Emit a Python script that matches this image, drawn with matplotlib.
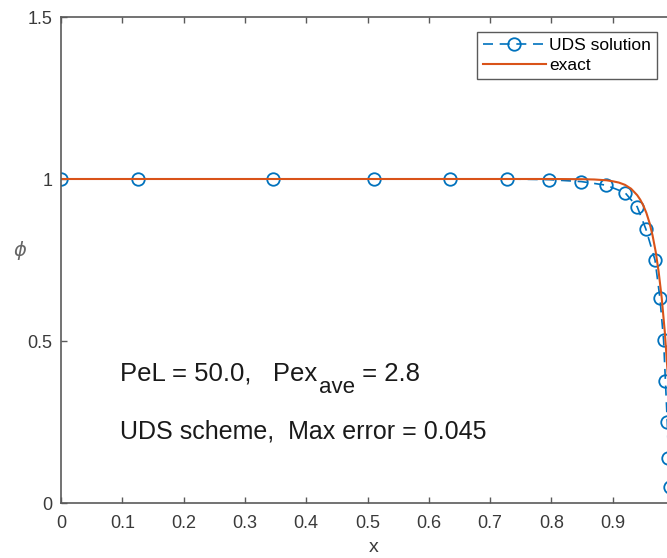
import numpy as np
import matplotlib.pyplot as plt

plt.rcParams['font.family'] = ['Liberation Sans', 'DejaVu Sans']

# UDS solution
x_uds = [0.0, 0.125, 0.346, 0.511, 0.635, 0.728, 0.796, 0.849, 0.889, 0.920,
         0.940, 0.954, 0.969, 0.977, 0.983, 0.986, 0.989, 0.991, 0.993, 1.0]
phi_uds = [1.0, 1.0, 1.0, 1.0, 1.0, 1.0, 0.998, 0.992, 0.981, 0.958,
           0.914, 0.846, 0.750, 0.633, 0.503, 0.377, 0.251, 0.139, 0.05, 0.0]

# exact solution
x_ex = [0.0, 0.5, 0.8, 0.85, 0.87, 0.89, 0.90, 0.91, 0.92, 0.93, 0.94,
        0.945, 0.95, 0.955, 0.96, 0.965, 0.97, 0.975, 0.98, 0.985, 0.99,
        0.995, 1.0]
phi_ex = [1.0, 1.0, 1.0, 0.9994, 0.9985, 0.996, 0.993, 0.989, 0.982, 0.970,
          0.950, 0.936, 0.918, 0.895, 0.865, 0.826, 0.777, 0.713, 0.632,
          0.528, 0.393, 0.221, 0.0]

xticks = [0, 0.1, 0.2, 0.3, 0.4, 0.5, 0.6, 0.7, 0.8, 0.9, 1.0]
xticklabels = ['0', '0.1', '0.2', '0.3', '0.4', '0.5', '0.6', '0.7', '0.8',
               '0.9', '']
yticks = [0, 0.5, 1, 1.5]
yticklabels = ['0', '0.5', '1', '1.5']

blue = '#0072BD'
orange = '#D95319'
grey = '#5a5a5a'
txtgrey = '#3a3a3a'

fig = plt.figure(figsize=(6.67, 5.58), dpi=100)
ax = fig.add_axes([61 / 667, 55 / 558, 613 / 667, 486 / 558])

ax.plot(x_uds, phi_uds, '--o', color=blue, lw=1.2, ms=9, mfc='none',
        mew=1.3, dashes=(6, 4), label='UDS solution')
ax.plot(x_ex, phi_ex, '-', color=orange, lw=1.5, label='exact')

ax.set_xlim(0, 1)
ax.set_ylim(0, 1.5)
ax.set_xticks(xticks)
ax.set_xticklabels(xticklabels)
ax.set_yticks(yticks)
ax.set_yticklabels(yticklabels)
ax.tick_params(direction='in', top=True, right=True, length=4.5, width=1,
               color=grey, labelcolor=txtgrey, labelsize=13, pad=6)
ax.tick_params(axis='x', pad=9)
for s in ax.spines.values():
    s.set_color(grey)
    s.set_linewidth(1.2)

ax.set_xlabel('x', fontsize=14, color=txtgrey, va='center')
ax.xaxis.set_label_coords((374 - 61) / 613, (503 - 547) / 486)
ax.set_ylabel(r'$\phi$', fontsize=14, color='#666666', rotation=0,
              va='center', ha='center')
ax.yaxis.set_label_coords((20 - 61) / 613, (503 - 250) / 486)

# annotation text, subscript drawn as its own smaller text
t1 = ax.text(0.097, 0.377, 'PeL = 50.0,   Pex', fontsize=18.5,
             color='#1a1a1a', va='baseline')
t2 = ax.annotate('ave', xy=(1, 0), xycoords=t1, xytext=(1, -8.5),
                 textcoords='offset points', fontsize=16, color='#1a1a1a',
                 va='bottom')
ax.annotate(' = 2.8', xy=(1, 0), xycoords=t2, xytext=(0, 8.5),
            textcoords='offset points', fontsize=18.5, color='#1a1a1a',
            va='bottom')
ax.text(0.096, 0.2, 'UDS scheme,  Max error = 0.045',
        fontsize=18, color='#1a1a1a', va='baseline')

leg = ax.legend(loc='upper right', bbox_to_anchor=(657 / 667, 1 - 32 / 558),
                bbox_transform=fig.transFigure, borderaxespad=0,
                fancybox=False, fontsize=12.5, handlelength=3.6,
                framealpha=1, edgecolor=grey, borderpad=0.35,
                labelspacing=0.25, handletextpad=0.2)
leg.get_frame().set_linewidth(1.0)

fig.savefig('out.png', dpi=100)
